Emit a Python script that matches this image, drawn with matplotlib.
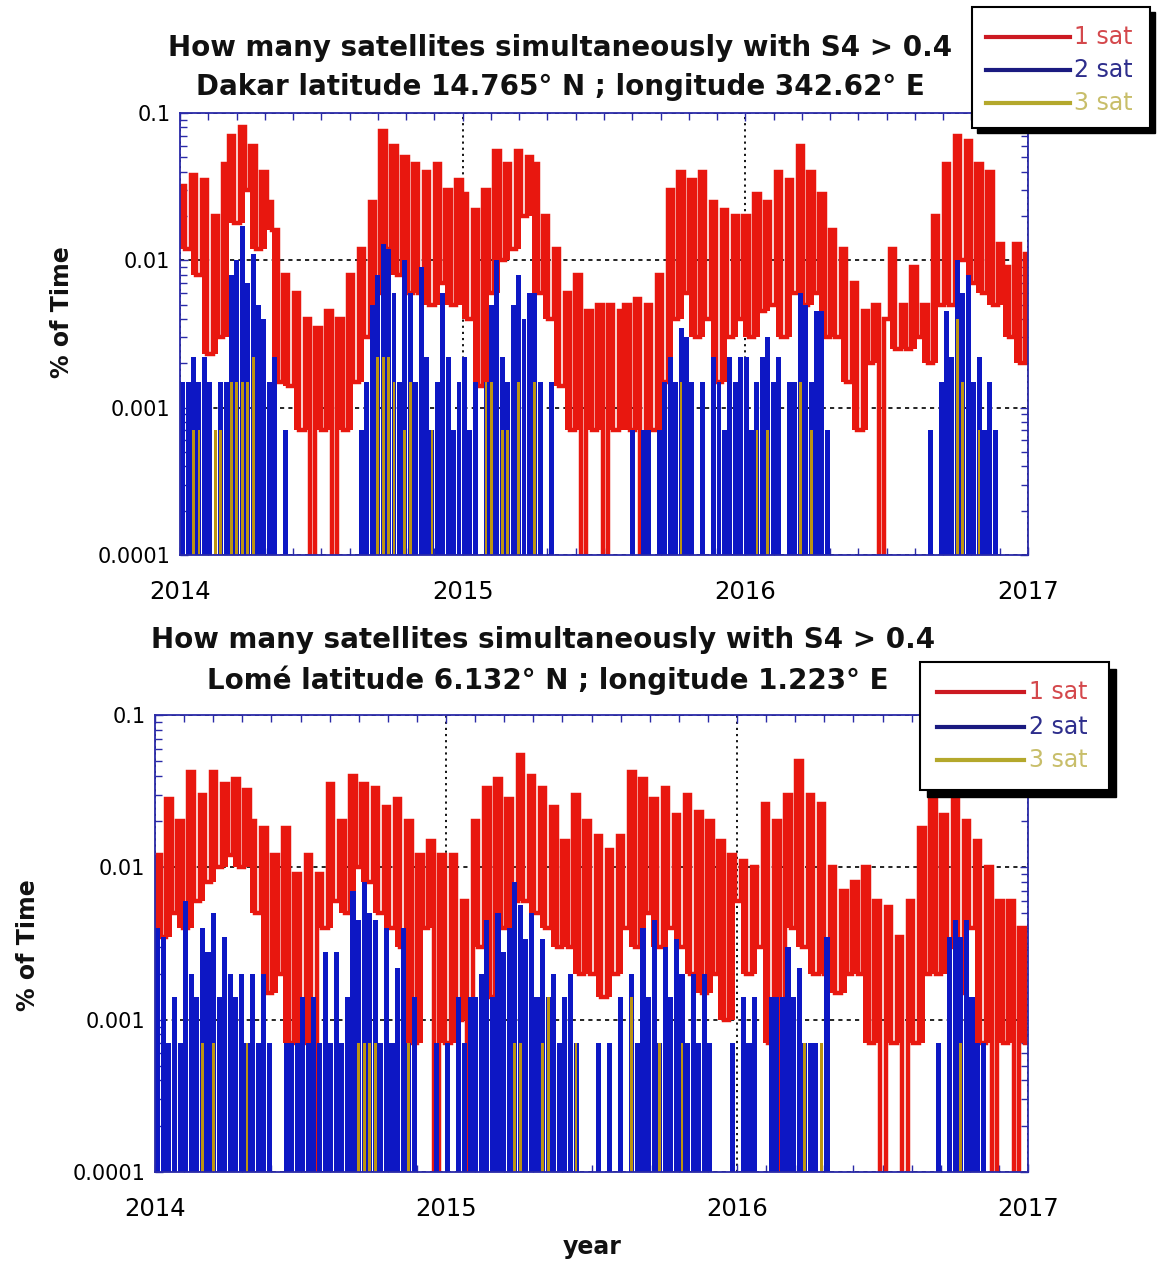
import numpy as np
import matplotlib
matplotlib.use("Agg")
import matplotlib.pyplot as plt
from matplotlib.ticker import MultipleLocator, LogLocator, NullFormatter
from matplotlib.patches import Rectangle
from matplotlib.lines import Line2D

W, H = 1158, 1264

# Weekly percentage of time with S4 > 0.4, week 0 starting 1 Jan 2014 (157 weeks)
dakar_1sat = [
    # 2014
    0.032, 0.012, 0.038, 0.008, 0.035,
    0.0023, 0.02, 0.003, 0.045,
    0.07, 0.018, 0.08, 0.03,
    0.06, 0.012, 0.04, 0.025,
    0.016, 0.0015, 0.008, 0.0014, 0.006,
    0.0007, 0.004, 0, 0.0035,
    0.0007, 0.0045, 0, 0.004,
    0.0007, 0.008, 0.0015, 0.012, 0.003,
    0.025, 0.006, 0.075, 0.012,
    0.06, 0.008, 0.05, 0.006, 0.045,
    0.006, 0.04, 0.005, 0.045,
    0.007, 0.03, 0.005, 0.035,
    # 2015
    0.028, 0.004, 0.022, 0.0014, 0.03,
    0.006, 0.055, 0.01, 0.045,
    0.012, 0.055, 0.02, 0.05,
    0.045, 0.006, 0.02, 0.004,
    0.012, 0.0014, 0.006, 0.0007, 0.008,
    0, 0.0045, 0.0007, 0.005,
    0, 0.005, 0.0007, 0.0045,
    0.005, 0.0007, 0.0055, 0, 0.005,
    0.0007, 0.008, 0.0015, 0.03,
    0.004, 0.04, 0.006, 0.035, 0.003,
    0.04, 0.004, 0.025, 0.0015,
    0.022, 0.003, 0.02, 0.004,
    # 2016
    0.02, 0.003, 0.028, 0.0045, 0.025,
    0.005, 0.04, 0.003, 0.035,
    0.006, 0.06, 0.005, 0.04,
    0.006, 0.028, 0.003, 0.016,
    0.003, 0.012, 0.0015, 0.007, 0.0007,
    0.0045, 0.002, 0.005, 0,
    0.004, 0.012, 0.0025, 0.005,
    0.0025, 0.009, 0.003, 0.005, 0.002,
    0.02, 0.005, 0.045, 0.005,
    0.07, 0.01, 0.065, 0.007, 0.045,
    0.006, 0.04, 0.005, 0.013,
    0.009, 0.003, 0.013, 0.002, 0.011,
]

dakar_2sat = [
    # 2014
    0.0015, 0.0015, 0.0022, 0.0015, 0.0022,
    0.0015, 0, 0.0015, 0.0015,
    0.008, 0.01, 0.017, 0.007,
    0.011, 0.005, 0.004, 0.0015,
    0.0022, 0, 0.0007, 0, 0,
    0, 0, 0, 0,
    0, 0, 0, 0,
    0, 0, 0, 0.0007, 0.0015,
    0.005, 0.008, 0.013, 0.012,
    0.006, 0.0015, 0.01, 0.006, 0.0015,
    0.009, 0.0022, 0.0007, 0.0015,
    0.006, 0.0022, 0.0007, 0.0015,
    # 2015
    0.0022, 0.0007, 0.0015, 0, 0.0015,
    0.005, 0.01, 0.0022, 0.0015,
    0.005, 0.008, 0.004, 0.006,
    0.006, 0.0015, 0, 0.0015,
    0, 0, 0, 0, 0,
    0, 0, 0, 0,
    0, 0, 0, 0,
    0, 0.0007, 0, 0.0007, 0.0007,
    0, 0.0007, 0.0015, 0.0022,
    0.0015, 0.0035, 0.003, 0.0015, 0,
    0.0015, 0, 0.0022, 0.0015,
    0.0007, 0.0022, 0.0015, 0.0022,
    # 2016
    0.0022, 0.0007, 0.0015, 0.0022, 0.003,
    0.0015, 0.0022, 0, 0.0015,
    0.0015, 0.006, 0.005, 0.0015,
    0.0045, 0.0045, 0.0007, 0,
    0, 0, 0, 0, 0,
    0, 0, 0, 0,
    0, 0, 0, 0,
    0, 0, 0, 0, 0.0007,
    0, 0.0015, 0.0045, 0.0022,
    0.01, 0.006, 0.008, 0.0015, 0.0022,
    0.0007, 0.0015, 0.0007, 0,
    0, 0, 0, 0, 0,
]

dakar_3sat = [
    # 2014
    0, 0, 0.0007, 0.0007, 0,
    0, 0.0007, 0.0007, 0,
    0.0015, 0.0015, 0.0015, 0.0015,
    0.0022, 0, 0, 0,
    0, 0, 0, 0, 0,
    0, 0, 0, 0,
    0, 0, 0, 0,
    0, 0, 0, 0, 0,
    0, 0.0022, 0.0022, 0.0022,
    0.0015, 0, 0.0007, 0.0015, 0,
    0, 0, 0.0007, 0,
    0, 0, 0, 0,
    # 2015
    0, 0, 0, 0, 0.0015,
    0.0015, 0, 0.0007, 0.0007,
    0, 0.0015, 0, 0,
    0.0015, 0, 0, 0,
    0, 0, 0, 0, 0,
    0, 0, 0, 0,
    0, 0, 0, 0,
    0, 0, 0, 0, 0,
    0, 0, 0, 0,
    0, 0.0015, 0, 0, 0,
    0, 0, 0, 0,
    0, 0, 0, 0,
    # 2016
    0, 0, 0.0007, 0, 0.0007,
    0, 0, 0, 0,
    0, 0.0015, 0, 0.0007,
    0, 0, 0, 0,
    0, 0, 0, 0, 0,
    0, 0, 0, 0,
    0, 0, 0, 0,
    0, 0, 0, 0, 0,
    0, 0, 0, 0,
    0.004, 0.0015, 0, 0, 0.0007,
    0, 0, 0, 0,
    0, 0, 0, 0, 0,
]

lome_1sat = [
    # 2014
    0.012, 0.0035, 0.028, 0.005, 0.02,
    0.004, 0.042, 0.006, 0.03,
    0.008, 0.042, 0.01, 0.035,
    0.012, 0.038, 0.01, 0.032,
    0.02, 0.005, 0.018, 0.0015, 0.012,
    0.002, 0.018, 0.0007, 0.009,
    0.0007, 0.012, 0, 0.009,
    0.004, 0.035, 0.006, 0.02, 0.005,
    0.04, 0.01, 0.035, 0.008,
    0.033, 0.005, 0.025, 0.004, 0.028,
    0.003, 0.02, 0.0007, 0.012,
    0.004, 0.015, 0, 0.012,
    # 2015
    0.0007, 0.012, 0.001, 0.006, 0,
    0.02, 0.003, 0.033, 0.0014,
    0.038, 0.004, 0.028, 0.006,
    0.055, 0.006, 0.04, 0.005,
    0.033, 0.004, 0.025, 0.003, 0.015,
    0.003, 0.03, 0.002, 0.02,
    0.002, 0.016, 0.0014, 0.013,
    0.002, 0.016, 0.004, 0.042, 0.003,
    0.038, 0.005, 0.028, 0.003,
    0.033, 0.004, 0.022, 0.003, 0.03,
    0.002, 0.023, 0.0015, 0.02,
    0.002, 0.015, 0.001, 0.012,
    # 2016
    0.006, 0.011, 0.002, 0.01, 0.003,
    0.026, 0.0007, 0.02, 0,
    0.03, 0.004, 0.05, 0.003,
    0.03, 0.002, 0.026, 0.002,
    0.01, 0.0015, 0.007, 0.002, 0.008,
    0.002, 0.01, 0.0007, 0.006,
    0, 0.0055, 0.0007, 0.0035,
    0, 0.006, 0.0007, 0.018, 0.002,
    0.03, 0.002, 0.022, 0.003,
    0.028, 0.0015, 0.02, 0.004, 0.015,
    0.0007, 0.01, 0, 0.006,
    0.0007, 0.006, 0, 0.004, 0.0007,
]

lome_2sat = [
    # 2014
    0.004, 0.0035, 0.0007, 0.0014, 0.0007,
    0.006, 0.002, 0.0014, 0.004,
    0.0028, 0.005, 0.0014, 0.0035,
    0.002, 0.0014, 0.002, 0.0007,
    0.002, 0.0007, 0.002, 0.0007, 0,
    0, 0.0007, 0.0007, 0.0007,
    0.0014, 0.0007, 0.0014, 0.0007,
    0.0028, 0.0007, 0.0028, 0.0007, 0.0014,
    0.007, 0.0045, 0.008, 0.005,
    0.0045, 0.0007, 0.004, 0.0007, 0.0022,
    0.004, 0.0007, 0.0014, 0,
    0, 0, 0.0007, 0,
    # 2015
    0.0007, 0, 0.0014, 0.0007, 0.0014,
    0.0014, 0.002, 0.0045, 0.0014,
    0.005, 0.0028, 0.004, 0.008,
    0.0057, 0.0034, 0.005, 0.0014,
    0.0034, 0.0014, 0.002, 0.0007, 0.0014,
    0.002, 0.0007, 0, 0,
    0, 0.0007, 0, 0.0007,
    0, 0.0014, 0, 0.002, 0.0007,
    0.004, 0.0014, 0.0045, 0.0007,
    0.003, 0.0014, 0.0034, 0.002, 0.0007,
    0.002, 0.0007, 0.002, 0.0007,
    0, 0, 0, 0.0007,
    # 2016
    0, 0.0014, 0.0007, 0.0014, 0,
    0, 0.0014, 0.0014, 0.0014,
    0.003, 0.0014, 0.0022, 0.0007,
    0.0007, 0.0007, 0, 0.0035,
    0, 0, 0, 0, 0,
    0, 0, 0, 0,
    0, 0, 0, 0,
    0, 0, 0, 0, 0,
    0, 0.0007, 0, 0.0035,
    0.0045, 0.0035, 0.0045, 0.0014, 0.0007,
    0.0007, 0, 0, 0,
    0, 0, 0, 0, 0,
]

lome_3sat = [
    # 2014
    0, 0, 0, 0, 0,
    0, 0, 0, 0.0007,
    0, 0.0007, 0, 0,
    0, 0, 0, 0.0007,
    0, 0, 0, 0, 0,
    0, 0, 0, 0,
    0, 0, 0, 0,
    0, 0, 0, 0, 0,
    0, 0.0007, 0.0007, 0.0007,
    0.0007, 0, 0, 0, 0,
    0, 0.0007, 0, 0,
    0, 0, 0, 0,
    # 2015
    0, 0, 0, 0, 0,
    0, 0, 0, 0,
    0, 0, 0, 0.0007,
    0.0007, 0, 0, 0,
    0.0007, 0.0014, 0, 0, 0,
    0, 0.0007, 0, 0,
    0, 0, 0, 0,
    0, 0, 0, 0.0014, 0,
    0, 0, 0, 0.0007,
    0, 0, 0, 0.0007, 0,
    0, 0, 0, 0,
    0, 0, 0, 0,
    # 2016
    0, 0, 0, 0, 0,
    0, 0, 0, 0,
    0, 0, 0, 0.0007,
    0, 0, 0.0007, 0,
    0, 0, 0, 0, 0,
    0, 0, 0, 0,
    0, 0, 0, 0,
    0, 0, 0, 0, 0,
    0, 0, 0, 0,
    0, 0.0007, 0, 0, 0,
    0, 0, 0, 0,
    0, 0, 0, 0, 0,
]

year_ticks = [2014, 2015, 2016, 2017]
year_labels = ["2014", "2015", "2016", "2017"]
pct_ticks = [1e-4, 1e-3, 1e-2, 1e-1]
pct_labels = ["0.0001", "0.001", "0.01", "0.1"]
series_labels = ["1 sat", "2 sat", "3 sat"]

RED = "#E8170F"
BLUE = "#0D17C4"
GOLD = "#BC9412"
AXC = "#2A2AA8"
FONT = "DejaVu Sans"

plt.rcParams["font.family"] = [FONT]

fig = plt.figure(figsize=(W / 100, H / 100), dpi=100, facecolor="white")


def frac(x0, y0, x1, y1):
    """Pixel box (left, top, right, bottom) -> figure fraction rect."""
    return [x0 / W, 1 - y1 / H, (x1 - x0) / W, (y1 - y0) / H]


def px(x, y):
    return x / W, 1 - y / H


def draw_panel(ax, one, two, three):
    one = np.asarray(one, float)
    week = np.arange(len(one))
    x = 2014 + (7 * week + 3.5) / 365.25
    wk = 7 / 365.25
    ax.set_yscale("log", nonpositive="clip")

    # 1-sat band: each week spans from the lowest non-zero neighbour up to its value
    nz = np.where(one > 0, one, np.nan)
    padded = np.concatenate([[np.nan], nz, [np.nan]])
    floor = np.nanmin(np.vstack([padded[:-2], padded[1:-1], padded[2:]]), axis=0)
    has = one > 0
    ax.bar(x[has], one[has] - floor[has], bottom=floor[has], width=wk,
           color=RED, zorder=2, linewidth=0)
    ax.step(x, one, where="mid", color=RED, lw=3.2, zorder=2,
            solid_joinstyle="miter")

    ax.bar(x, two, width=6.4 / 365.25, color=BLUE, zorder=3, linewidth=0)
    ax.bar(x, three, width=3.6 / 365.25, color=GOLD, zorder=4, linewidth=0)

    ax.set_xlim(2014, 2017)
    ax.set_ylim(1e-4, 0.1)
    ax.set_xticks(year_ticks, labels=year_labels)
    ax.xaxis.set_minor_locator(MultipleLocator(0.1))
    ax.set_yticks(pct_ticks, labels=pct_labels)
    ax.yaxis.set_minor_locator(LogLocator(base=10, subs=np.arange(2, 10)))
    ax.yaxis.set_minor_formatter(NullFormatter())
    ax.tick_params(which="both", direction="in", top=True, right=True,
                   color=AXC, width=1.0)
    ax.tick_params(which="major", length=6)
    ax.tick_params(which="minor", length=5)
    ax.tick_params(axis="y", labelsize=15, pad=7)
    ax.tick_params(axis="x", labelsize=17.5, pad=18)
    ax.set_axisbelow(True)
    ax.xaxis.grid(True, which="major", color="black", lw=1.3,
                  linestyle=(0, (1.2, 2.2)))
    ax.yaxis.grid(True, which="major", color="black", lw=1.2,
                  linestyle=(0, (2.5, 2.5)))
    for s in ax.spines.values():
        s.set_color(AXC)
        s.set_linewidth(1.3)
        s.set_zorder(5)


def draw_legend(box, line_x0, line_x1, ys, text_x, fs, shadow):
    x0, y0, x1, y1 = box
    fig.patches.append(Rectangle(px(x0 + shadow, y1 + shadow),
                                 (x1 - x0) / W, (y1 - y0) / H,
                                 transform=fig.transFigure,
                                 facecolor="black", edgecolor="black", zorder=10))
    fig.patches.append(Rectangle(px(x0, y1), (x1 - x0) / W, (y1 - y0) / H,
                                 transform=fig.transFigure, facecolor="white",
                                 edgecolor="black", lw=1.5, zorder=11))
    line_cols = ["#CC1A22", "#1A1A80", "#B4A82C"]
    text_cols = ["#D4484C", "#2E2E8C", "#C8BE6A"]
    for y, lab, lc, tc in zip(ys, series_labels, line_cols, text_cols):
        xa, ya = px(line_x0, y)
        xb, _ = px(line_x1, y)
        fig.lines.append(Line2D([xa, xb], [ya, ya], transform=fig.transFigure,
                                color=lc, lw=3, zorder=12))
        fig.text(*px(text_x, y), lab, color=tc, fontsize=fs, ha="left",
                 va="center", zorder=12)


ax1 = fig.add_axes(frac(180, 113, 1028, 555))
draw_panel(ax1, dakar_1sat, dakar_2sat, dakar_3sat)
ax2 = fig.add_axes(frac(155, 715, 1028, 1172))
draw_panel(ax2, lome_1sat, lome_2sat, lome_3sat)

title_kw = dict(ha="center", va="center", fontsize=20, fontweight="bold",
                color="#111111")
fig.text(*px(560, 48), "How many satellites simultaneously with S4 > 0.4", **title_kw)
fig.text(*px(560, 87), "Dakar latitude 14.765° N ; longitude 342.62° E", **title_kw)
fig.text(*px(543, 640), "How many satellites simultaneously with S4 > 0.4", **title_kw)
fig.text(*px(548, 680), "Lomé latitude 6.132° N ; longitude 1.223° E", **title_kw)

lab_kw = dict(ha="center", va="center", fontsize=17, fontweight="bold",
              color="#111111")
fig.text(*px(62, 312), "% of Time", rotation=90, **lab_kw)
fig.text(*px(28, 945), "% of Time", rotation=90, **lab_kw)
fig.text(*px(592, 1247), "year", **lab_kw)

draw_legend((972, 7, 1150, 128), 986, 1070, [37, 70, 103], 1074, 17, 5)
draw_legend((920, 662, 1109, 790), 937, 1024, [692, 727, 760], 1029, 17, 7)

fig.savefig("out.png", dpi=100, facecolor="white")
